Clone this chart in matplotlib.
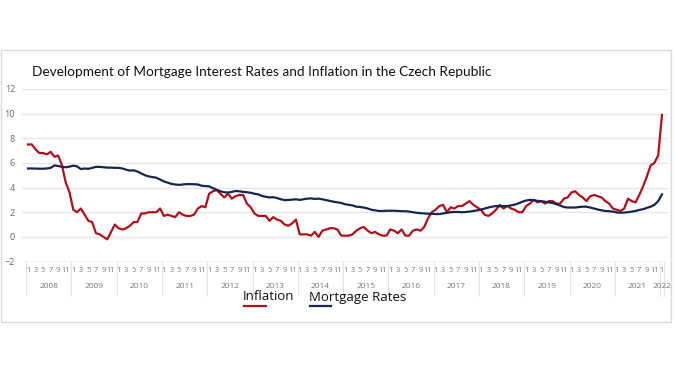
import numpy as np
import matplotlib.pyplot as plt
from matplotlib import font_manager
from matplotlib.lines import Line2D
from matplotlib.patches import Rectangle

years = list(range(2008, 2023))
month_labels = ['1', '3', '5', '7', '9', '11']

# monthly values, Jan 2008 .. Jan 2022
inflation = [
    7.5, 7.5, 7.1, 6.8, 6.8, 6.7, 6.9, 6.5, 6.6, 5.8, 4.4, 3.6,
    2.2, 2.0, 2.3, 1.8, 1.3, 1.2, 0.3, 0.2, 0.0, -0.2, 0.4, 1.0,
    0.7, 0.6, 0.7, 0.9, 1.2, 1.2, 1.9, 1.9, 2.0, 2.0, 2.0, 2.3,
    1.7, 1.8, 1.7, 1.6, 2.0, 1.8, 1.7, 1.7, 1.8, 2.3, 2.5, 2.4,
    3.5, 3.7, 3.8, 3.5, 3.2, 3.5, 3.1, 3.3, 3.4, 3.4, 2.7, 2.4,
    1.9, 1.7, 1.7, 1.7, 1.3, 1.6, 1.4, 1.3, 1.0, 0.9, 1.1, 1.4,
    0.2, 0.2, 0.2, 0.1, 0.4, 0.0, 0.5, 0.6, 0.7, 0.7, 0.6, 0.1,
    0.1, 0.1, 0.2, 0.5, 0.7, 0.8, 0.5, 0.3, 0.4, 0.2, 0.1, 0.1,
    0.6, 0.5, 0.3, 0.6, 0.1, 0.1, 0.5, 0.6, 0.5, 0.8, 1.5, 2.0,
    2.2, 2.5, 2.6, 2.0, 2.4, 2.3, 2.5, 2.5, 2.7, 2.9, 2.6, 2.4,
    2.2, 1.8, 1.7, 1.9, 2.2, 2.6, 2.3, 2.5, 2.3, 2.2, 2.0, 2.0,
    2.5, 2.7, 3.0, 2.8, 2.9, 2.7, 2.9, 2.9, 2.7, 2.7, 3.1, 3.2,
    3.6, 3.7, 3.4, 3.2, 2.9, 3.3, 3.4, 3.3, 3.2, 2.9, 2.7, 2.3,
    2.2, 2.1, 2.3, 3.1, 2.9, 2.8, 3.4, 4.1, 4.9, 5.8, 6.0, 6.6,
    9.9,
]

mortgage = [
    5.55, 5.55, 5.54, 5.53, 5.53, 5.55, 5.6, 5.8, 5.75, 5.68, 5.65, 5.7,
    5.78, 5.72, 5.5, 5.55, 5.52, 5.6, 5.68, 5.68, 5.65, 5.62, 5.62, 5.6,
    5.6, 5.55, 5.45, 5.38, 5.4, 5.3, 5.15, 5.0, 4.9, 4.85, 4.8, 4.65,
    4.5, 4.4, 4.3, 4.25, 4.22, 4.25, 4.28, 4.28, 4.27, 4.25, 4.15, 4.12,
    4.1, 3.95, 3.82, 3.7, 3.62, 3.6, 3.65, 3.72, 3.7, 3.65, 3.62, 3.58,
    3.5, 3.45, 3.32, 3.25, 3.2, 3.22, 3.15, 3.05, 2.98, 3.0, 3.02, 3.05,
    3.0, 3.05, 3.1, 3.12, 3.08, 3.1, 3.05, 2.98, 2.92, 2.85, 2.8, 2.75,
    2.65, 2.6, 2.55, 2.45, 2.42, 2.38, 2.3, 2.2, 2.15, 2.1, 2.1, 2.12,
    2.12, 2.12, 2.1, 2.08, 2.08, 2.05, 2.0, 1.95, 1.92, 1.9, 1.88, 1.87,
    1.85, 1.85, 1.9, 1.95, 2.0, 2.02, 2.02, 2.0, 2.02, 2.05, 2.1, 2.15,
    2.2, 2.3, 2.38, 2.45, 2.5, 2.48, 2.5, 2.5, 2.55, 2.62, 2.72, 2.85,
    2.95, 3.0, 2.98, 2.92, 2.9, 2.85, 2.8, 2.75, 2.65, 2.55, 2.42, 2.38,
    2.38, 2.38, 2.42, 2.45, 2.45, 2.38, 2.3, 2.22, 2.15, 2.1, 2.08, 2.05,
    1.98, 1.96, 1.97, 2.0, 2.05, 2.1, 2.18, 2.25, 2.35, 2.45, 2.6, 2.9,
    3.45,
]

title = 'Development of Mortgage Interest Rates and Inflation in the Czech Republic'
series_names = ['Inflation', 'Mortgage Rates']
colors = ['#b0101c', '#15274f']


def pick(cands):
    have = {f.name for f in font_manager.fontManager.ttflist}
    for c in cands:
        if c in have:
            return c
    return 'DejaVu Sans'


title_font = pick(['Lato', 'Liberation Sans', 'Open Sans'])
body_font = pick(['Open Sans', 'DejaVu Sans'])
plt.rcParams['font.family'] = body_font

W, H = 676, 371
fig = plt.figure(figsize=(W / 100, H / 100), dpi=100)

def fx(px):
    return px / W

def fy(py):
    return 1 - py / H

# outer frame
fig.patches.append(Rectangle((fx(1), fy(322)), fx(671) - fx(1), fy(50) - fy(322),
                             transform=fig.transFigure, fill=False,
                             edgecolor='#d9d9d9', linewidth=1))

ax = fig.add_axes([fx(22), fy(261.5), fx(668) - fx(22), fy(89) - fy(261.5)])
n = len(inflation)
x = np.arange(n)
ax.plot(x, inflation, color=colors[0], lw=1.6, solid_joinstyle='round', zorder=3)
ax.plot(x, mortgage, color=colors[1], lw=1.6, solid_joinstyle='round', zorder=3)

ax.set_xlim(-1.6, n - 1 + 1.6)
ax.set_ylim(-2, 12)
ax.set_yticks(range(-2, 13, 2))
ax.grid(axis='y', color='#e6e6e6', lw=1)
ax.set_axisbelow(True)
for s in ax.spines.values():
    s.set_visible(False)
ax.tick_params(axis='y', length=0, labelsize=6.5, labelcolor='#666666', pad=5)

# month ticks
pos, labs = [], []
for k, yr in enumerate(years):
    for j, m in enumerate(month_labels):
        idx = k * 12 + j * 2
        if idx < n:
            pos.append(idx)
            labs.append(m)
ax.set_xticks(pos)
ax.set_xticklabels(labs)
ax.tick_params(axis='x', length=0, labelsize=5.4, labelcolor='#777777', pad=4)

# year separators and labels
trans = ax.get_xaxis_transform()
frac = (296 - 261.5) / (261.5 - 89)
for k in range(len(years) + 1):
    xs = min(k * 12 - 0.5, n - 0.5)
    ax.add_line(Line2D([xs, xs], [0, -frac], transform=trans, color='#e3e3e3',
                       lw=0.8, clip_on=False))
for k, yr in enumerate(years):
    lo = k * 12 - 0.5
    hi = min(k * 12 + 11.5, n - 0.5)
    ax.text((lo + hi) / 2, -(286 - 261.5) / (261.5 - 89), str(yr), transform=trans,
            ha='center', va='center', fontsize=6, color='#777777')
ax.axhline(-2, color='#e3e3e3', lw=1, zorder=1)

# title, sized to span the same width as in the reference
t = fig.text(fx(262), fy(72), title, ha='center', va='center',
             fontsize=13, family=title_font, color='#111111')
r = fig.canvas.get_renderer()
w = t.get_window_extent(r).width
t.set_fontsize(13 * 456 / w)

# legend
fig.text(fx(243), fy(297), series_names[0], ha='left', va='center', fontsize=9.5, color='#111111')
fig.text(fx(309), fy(297), series_names[1], ha='left', va='center', fontsize=9.5, color='#111111')
fig.add_artist(Line2D([fx(244), fx(266)], [fy(306), fy(306)], color=colors[0], lw=1.6))
fig.add_artist(Line2D([fx(310), fx(331)], [fy(306), fy(306)], color=colors[1], lw=1.6))

fig.savefig('out.png', dpi=100)
